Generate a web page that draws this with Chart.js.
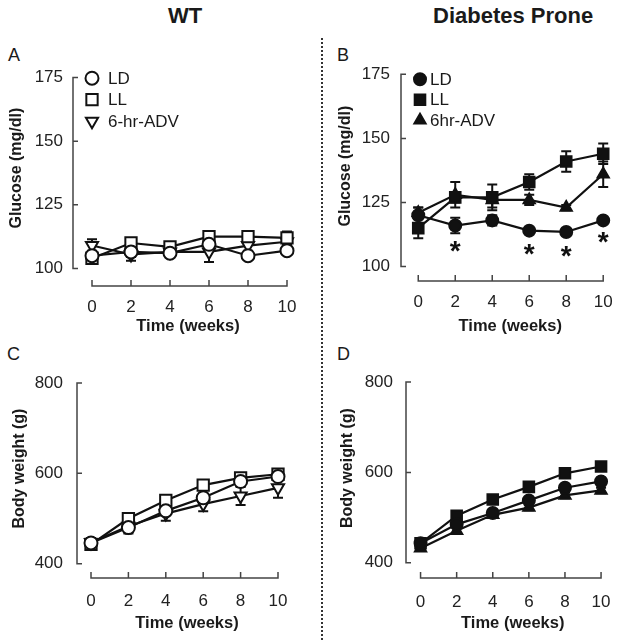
<!DOCTYPE html>
<html><head><meta charset="utf-8">
<script src="https://cdn.jsdelivr.net/npm/chart.js@4.4.1/dist/chart.umd.min.js"></script>
<style>
html,body{margin:0;padding:0;background:#fff;}
body{width:629px;height:643px;position:relative;overflow:hidden;font-family:"Liberation Sans",Arial,sans-serif;color:#1a1a1a;}
canvas{position:absolute;}
.t{position:absolute;font-weight:bold;font-size:22px;line-height:22px;white-space:nowrap;}
.l{position:absolute;font-size:18px;line-height:18px;}
#sep{position:absolute;left:321px;top:38px;height:602px;border-left:2px dotted #333;}
</style></head><body>
<div class="t" style="left:168px;top:5px">WT</div>
<div class="t" style="left:433px;top:5px">Diabetes Prone</div>
<div class="l" style="left:8px;top:46px">A</div>
<div class="l" style="left:337px;top:46px">B</div>
<div class="l" style="left:7px;top:345px">C</div>
<div class="l" style="left:337px;top:345px">D</div>
<div id="sep"></div>
<canvas id="cA"></canvas>
<canvas id="cB"></canvas>
<canvas id="cC"></canvas>
<canvas id="cD"></canvas>
<script>
// ---------------- DATA ----------------
const weeks = [0, 2, 4, 6, 8, 10];
const xTickValues = [0, 2, 4, 6, 8, 10];
const glucoseTicks = [100, 125, 150, 175];
const weightTicks = [400, 600, 800];
const labelsWT = ['LD', 'LL', '6-hr-ADV'];
const labelsDP = ['LD', 'LL', '6hr-ADV'];

// A: WT glucose (mg/dl)
const wtGlucoseLD = [105, 106.5, 106, 109.5, 105, 107];
const wtGlucoseLDErr = [2, 2, 1.5, 2, 1.5, 1.5];
const wtGlucoseLL = [104, 110, 108.5, 112.5, 112.5, 112];
const wtGlucoseLLErr = [2, 1.5, 1.5, 1.5, 2, 2.5];
const wtGlucoseADV = [109, 105.5, 106.5, 106.5, 109, 110.5];
const wtGlucoseADVErr = [2.5, 2.5, 1.5, 4, 2, 2];

// B: Diabetes-prone glucose (mg/dl)
const dpGlucoseLD = [120, 116, 118, 114, 113.5, 118];
const dpGlucoseLDErr = [3, 3, 2, 1, 1, 1];
const dpGlucoseLL = [115, 127, 127, 133, 141, 144];
const dpGlucoseLLErr = [4, 2, 5, 3, 4, 4];
const dpGlucoseADV = [121, 128, 126, 126, 123, 136];
const dpGlucoseADVErr = [2, 5, 3, 2, 1, 5];
const dpStarWeeks = [2, 6, 8, 10];
const dpStarY = [109, 108, 107.2, 112.8];

// C: WT body weight (g)
const wtWeightLD = [446, 480, 517, 546, 582, 593];
const wtWeightLDErr = [8, 8, 8, 10, 10, 10];
const wtWeightLL = [443, 500, 540, 574, 590, 598];
const wtWeightLLErr = [8, 6, 6, 6, 8, 10];
const wtWeightADV = [447, 483, 511, 532, 550, 568];
const wtWeightADVErr = [10, 16, 16, 16, 20, 22];

// D: Diabetes-prone body weight (g)
const dpWeightLD = [443, 485, 510, 538, 566, 580];
const dpWeightLDErr = [5, 6, 6, 6, 6, 8];
const dpWeightLL = [443, 504, 540, 568, 598, 613];
const dpWeightLLErr = [5, 5, 5, 5, 5, 6];
const dpWeightADV = [432, 471, 506, 522, 549, 560];
const dpWeightADVErr = [5, 6, 6, 6, 6, 6];

// ---------------- DRAWING ----------------
const FONT = '"Liberation Sans", Arial, sans-serif';
const INK = '#111';
const AXIS = '#444';

function markerPath(ctx, style, x, y, r, rot) {
  ctx.beginPath();
  if (style === 'circle') {
    ctx.arc(x, y, r, 0, Math.PI * 2);
  } else if (style === 'rect') {
    const s = Math.SQRT1_2 * r;
    ctx.rect(x - s, y - s, 2 * s, 2 * s);
  } else {
    let a = (rot || 0) * Math.PI / 180;
    ctx.moveTo(x + Math.sin(a) * r, y - Math.cos(a) * r);
    a += 2 * Math.PI / 3;
    ctx.lineTo(x + Math.sin(a) * r, y - Math.cos(a) * r);
    a += 2 * Math.PI / 3;
    ctx.lineTo(x + Math.sin(a) * r, y - Math.cos(a) * r);
    ctx.closePath();
  }
}

function series(label, values, errors, style, r, fill, rot) {
  return {
    label: label,
    data: weeks.map((w, i) => ({x: w, y: values[i]})),
    errors: errors,
    borderColor: INK, borderWidth: 2.2,
    pointStyle: style, pointRadius: r, pointHoverRadius: r,
    pointRotation: rot || 0,
    pointBackgroundColor: fill, pointBorderColor: INK, pointBorderWidth: 2,
    tension: 0, fill: false
  };
}

function makePanel(cfg) {
  const canvas = document.getElementById(cfg.id);
  const box = cfg.box, area = cfg.area;
  canvas.width = box.w; canvas.height = box.h;
  canvas.style.left = box.x + 'px'; canvas.style.top = box.y + 'px';
  canvas.style.width = box.w + 'px'; canvas.style.height = box.h + 'px';
  const lin = (r, p) => r[0] + (p - r[1]) * (r[2] - r[0]) / (r[3] - r[1]);
  const xMin = lin(cfg.xRef, area.l), xMax = lin(cfg.xRef, area.r);
  const yMin = lin(cfg.yRef, area.b), yMax = lin(cfg.yRef, area.t);
  const yLo = cfg.yTicks[0], yHi = cfg.yTicks[cfg.yTicks.length - 1];
  const xLo = cfg.xTicks[0], xHi = cfg.xTicks[cfg.xTicks.length - 1];

  const decor = {
    id: 'decor' + cfg.id,
    beforeDatasetsDraw(chart) {
      const ctx = chart.ctx, xs = chart.scales.x, ys = chart.scales.y;
      const ca = chart.chartArea;
      ctx.save();
      ctx.strokeStyle = AXIS; ctx.lineWidth = 1.5; ctx.lineCap = 'butt';
      const ax = ca.left;
      ctx.beginPath();
      ctx.moveTo(ax, ys.getPixelForValue(yLo) + 0.75);
      ctx.lineTo(ax, ys.getPixelForValue(yHi) - 0.75);
      cfg.yTicks.forEach(v => { const p = ys.getPixelForValue(v); ctx.moveTo(ax, p); ctx.lineTo(ax + 5, p); });
      const ay = ca.bottom;
      ctx.moveTo(xs.getPixelForValue(xLo) - 0.75, ay);
      ctx.lineTo(xs.getPixelForValue(xHi) + 0.75, ay);
      cfg.xTicks.forEach(v => { const p = xs.getPixelForValue(v); ctx.moveTo(p, ay); ctx.lineTo(p, ay - 6); });
      ctx.stroke();
      ctx.strokeStyle = INK; ctx.lineWidth = 2;
      chart.data.datasets.forEach((ds, di) => {
        const meta = chart.getDatasetMeta(di);
        ds.data.forEach((pt, j) => {
          const e = ds.errors[j];
          const x = meta.data[j].x;
          const y1 = ys.getPixelForValue(pt.y - e), y2 = ys.getPixelForValue(pt.y + e);
          ctx.beginPath();
          ctx.moveTo(x, y1); ctx.lineTo(x, y2);
          ctx.moveTo(x - 5, y1); ctx.lineTo(x + 5, y1);
          ctx.moveTo(x - 5, y2); ctx.lineTo(x + 5, y2);
          ctx.stroke();
        });
      });
      ctx.restore();
    },
    afterDatasetsDraw(chart) {
      const ctx = chart.ctx, xs = chart.scales.x, ys = chart.scales.y;
      const ca = chart.chartArea;
      ctx.save();
      if (cfg.legend) {
        const lg = cfg.legend;
        chart.data.datasets.forEach((ds, i) => {
          const mx = ca.left + lg.dx, my = ca.top + lg.dy + i * lg.gap;
          markerPath(ctx, ds.pointStyle, mx, my, ds.pointRadius, ds.pointRotation);
          ctx.fillStyle = ds.pointBackgroundColor; ctx.fill();
          ctx.strokeStyle = INK; ctx.lineWidth = 2; ctx.stroke();
          ctx.fillStyle = '#1a1a1a';
          ctx.font = '17px ' + FONT;
          ctx.textBaseline = 'middle'; ctx.textAlign = 'left';
          ctx.fillText(ds.label, mx + lg.tx, my + 1);
        });
      }
      if (cfg.stars) {
        ctx.fillStyle = INK;
        ctx.font = 'bold 28px ' + FONT;
        ctx.textAlign = 'center'; ctx.textBaseline = 'alphabetic';
        cfg.stars.x.forEach((w, i) => {
          const px = xs.getPixelForValue(w), py = ys.getPixelForValue(cfg.stars.y[i]);
          ctx.fillText('*', px, py + 28 * 0.6);
        });
      }
      ctx.restore();
    }
  };

  return new Chart(canvas, {
    type: 'line',
    data: {datasets: cfg.datasets},
    options: {
      responsive: false, animation: false, devicePixelRatio: 1,
      events: [],
      layout: {padding: {left: 0, top: area.t - box.y, right: box.x + box.w - area.r, bottom: 0}},
      plugins: {legend: {display: false}, tooltip: {enabled: false}, title: {display: false}},
      scales: {
        x: {
          type: 'linear', min: xMin, max: xMax,
          grid: {display: false, drawTicks: false}, border: {display: false},
          afterBuildTicks: s => { s.ticks = cfg.xTicks.map(v => ({value: v})); },
          afterFit: s => { s.height = box.y + box.h - area.b; },
          ticks: {font: {size: 17, family: FONT}, color: '#222', padding: cfg.pad.xt,
                  maxRotation: 0, minRotation: 0, autoSkip: false, callback: v => String(v)},
          title: {display: true, text: 'Time (weeks)', color: '#1a1a1a',
                  font: {size: 16.5, weight: 'bold', family: FONT}, padding: {top: 0, bottom: cfg.pad.xTitle}}
        },
        y: {
          type: 'linear', min: yMin, max: yMax,
          grid: {display: false, drawTicks: false}, border: {display: false},
          afterBuildTicks: s => { s.ticks = cfg.yTicks.map(v => ({value: v})); },
          afterFit: s => { s.width = area.l - box.x; },
          ticks: {font: {size: 17, family: FONT}, color: '#222', padding: cfg.pad.yt, callback: v => String(v)},
          title: {display: true, text: cfg.yTitle, color: '#1a1a1a',
                  font: {size: 16, weight: 'bold', family: FONT}, padding: {top: cfg.pad.yTitle, bottom: 0}}
        }
      }
    },
    plugins: [decor]
  });
}

makePanel({
  id: 'cA', box: {x: 0, y: 30, w: 318, h: 315}, area: {l: 73, r: 303, t: 44, b: 286},
  xRef: [0, 92, 10, 287], yRef: [100, 268, 175, 72],
  xTicks: xTickValues, yTicks: glucoseTicks, yTitle: 'Glucose (mg/dl)',
  pad: {xt: 11, xTitle: 9, yt: 10, yTitle: 7},
  legend: {dx: 19, dy: 28, gap: 21.5, tx: 16},
  datasets: [
    series(labelsWT[0], wtGlucoseLD, wtGlucoseLDErr, 'circle', 6.5, '#fff'),
    series(labelsWT[1], wtGlucoseLL, wtGlucoseLLErr, 'rect', 8, '#fff'),
    series(labelsWT[2], wtGlucoseADV, wtGlucoseADVErr, 'triangle', 7, '#fff', 180)
  ]
});

makePanel({
  id: 'cB', box: {x: 322, y: 30, w: 307, h: 315}, area: {l: 401, r: 629, t: 43, b: 281},
  xRef: [0, 419, 10, 612], yRef: [100, 266, 175, 67],
  xTicks: xTickValues, yTicks: glucoseTicks, yTitle: 'Glucose (mg/dl)',
  pad: {xt: 11, xTitle: 9, yt: 11, yTitle: 14},
  legend: {dx: 19, dy: 28, gap: 20.5, tx: 10},
  stars: {x: dpStarWeeks, y: dpStarY},
  datasets: [
    series(labelsDP[0], dpGlucoseLD, dpGlucoseLDErr, 'circle', 6, INK),
    series(labelsDP[1], dpGlucoseLL, dpGlucoseLLErr, 'rect', 7.5, INK),
    series(labelsDP[2], dpGlucoseADV, dpGlucoseADVErr, 'triangle', 6.5, INK)
  ]
});

makePanel({
  id: 'cC', box: {x: 0, y: 335, w: 318, h: 308}, area: {l: 77, r: 297, t: 348, b: 578},
  xRef: [0, 91, 10, 278], yRef: [400, 563, 800, 373],
  xTicks: xTickValues, yTicks: weightTicks, yTitle: 'Body weight (g)',
  pad: {xt: 13, xTitle: 10, yt: 14, yTitle: 10},
  datasets: [
    series(labelsWT[0], wtWeightLD, wtWeightLDErr, 'circle', 6.5, '#fff'),
    series(labelsWT[1], wtWeightLL, wtWeightLLErr, 'rect', 8, '#fff'),
    series(labelsWT[2], wtWeightADV, wtWeightADVErr, 'triangle', 7, '#fff', 180)
  ]
});

makePanel({
  id: 'cD', box: {x: 322, y: 335, w: 307, h: 308}, area: {l: 406, r: 626, t: 348, b: 578},
  xRef: [0, 421, 10, 607], yRef: [400, 562, 800, 373],
  xTicks: xTickValues, yTicks: weightTicks, yTitle: 'Body weight (g)',
  pad: {xt: 14, xTitle: 10, yt: 13, yTitle: 16},
  datasets: [
    series(labelsDP[0], dpWeightLD, dpWeightLDErr, 'circle', 6, INK),
    series(labelsDP[1], dpWeightLL, dpWeightLLErr, 'rect', 7.5, INK),
    series(labelsDP[2], dpWeightADV, dpWeightADVErr, 'triangle', 6.5, INK)
  ]
});
</script>
</body></html>
